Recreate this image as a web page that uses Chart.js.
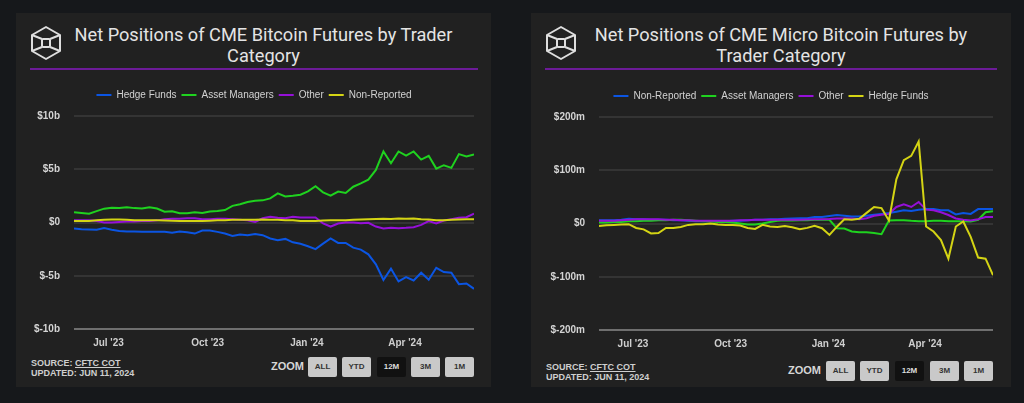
<!DOCTYPE html>
<html><head><meta charset="utf-8">
<script src="https://cdn.jsdelivr.net/npm/chart.js@4.4.1/dist/chart.umd.min.js"></script>
<style>
html,body{margin:0;padding:0;background:#16181b;width:1024px;height:403px;overflow:hidden;font-family:"Liberation Sans",Arial,sans-serif;}
.panel{position:absolute;top:13px;height:374px;background:#212121;}
.title{position:absolute;color:#e4e4e4;font-family:Roboto,sans-serif;font-size:18.2px;line-height:21px;text-align:center;white-space:nowrap;}
.rule{position:absolute;height:2px;background:#6c1b98;}
.icon{position:absolute;}
.cw{position:absolute;}
.src{position:absolute;color:#cfcfcf;font-size:9px;font-weight:bold;line-height:10px;white-space:nowrap;}
.zl{position:absolute;color:#d6d6d6;font-size:11px;font-weight:bold;line-height:13px;}
.btn{position:absolute;width:29px;height:20px;background:#c9c9c9;color:#333;font-size:8px;font-weight:bold;line-height:20px;text-align:center;border-radius:2px;}
.btn.on{background:#111;color:#ddd;}
</style></head>
<body>
<div class="panel" style="left:16px;width:475px;"></div>
<div class="panel" style="left:531px;width:480px;"></div>

<svg class="icon" style="left:29px;top:25px" width="34" height="36" viewBox="0 0 34 36">
<g fill="none" stroke="#dedede" stroke-width="2" stroke-linejoin="round">
<polygon points="17,2 31,10 31,26 17,34 3,26 3,10"/>
<rect x="13" y="14" width="8" height="8" rx="1"/>
<line x1="3" y1="10" x2="13" y2="14"/><line x1="31" y1="10" x2="21" y2="14"/>
<line x1="3" y1="26" x2="13" y2="22"/><line x1="31" y1="26" x2="21" y2="22"/>
</g></svg>
<svg class="icon" style="left:544px;top:25px" width="34" height="36" viewBox="0 0 34 36">
<g fill="none" stroke="#dedede" stroke-width="2" stroke-linejoin="round">
<polygon points="17,2 31,10 31,26 17,34 3,26 3,10"/>
<rect x="13" y="14" width="8" height="8" rx="1"/>
<line x1="3" y1="10" x2="13" y2="14"/><line x1="31" y1="10" x2="21" y2="14"/>
<line x1="3" y1="26" x2="13" y2="22"/><line x1="31" y1="26" x2="21" y2="22"/>
</g></svg>

<div class="title" style="left:63px;width:401px;top:24px;">Net Positions of CME Bitcoin Futures by Trader<br>Category</div>
<div class="title" style="left:580px;width:402px;top:24px;">Net Positions of CME Micro Bitcoin Futures by<br>Trader Category</div>
<div class="rule" style="left:30px;width:448px;top:68px;"></div>
<div class="rule" style="left:545px;width:452px;top:68px;"></div>

<div class="cw" style="left:20px;top:85px;width:470px;height:269px;"><canvas id="c1" width="470" height="269"></canvas></div>
<div class="cw" style="left:540px;top:86px;width:468px;height:269px;"><canvas id="c2" width="468" height="269"></canvas></div>

<div class="src" style="left:31px;top:358px;">SOURCE: <u>CFTC COT</u><br>UPDATED: JUN 11, 2024</div>
<div class="src" style="left:546px;top:362px;">SOURCE: <u>CFTC COT</u><br>UPDATED: JUN 11, 2024</div>

<div class="zl" style="left:271px;top:360px;">ZOOM</div>
<div class="btn" style="left:308px;top:357px;">ALL</div>
<div class="btn" style="left:342px;top:357px;">YTD</div>
<div class="btn on" style="left:377px;top:357px;">12M</div>
<div class="btn" style="left:411px;top:357px;">3M</div>
<div class="btn" style="left:445px;top:357px;">1M</div>

<div class="zl" style="left:788px;top:364px;">ZOOM</div>
<div class="btn" style="left:826px;top:361px;">ALL</div>
<div class="btn" style="left:860px;top:361px;">YTD</div>
<div class="btn on" style="left:895px;top:361px;">12M</div>
<div class="btn" style="left:930px;top:361px;">3M</div>
<div class="btn" style="left:964px;top:361px;">1M</div>

<script>
// ---- data ----
const dates = [
 "2023-05-30","2023-06-06","2023-06-13","2023-06-20","2023-06-27","2023-07-04","2023-07-11","2023-07-18","2023-07-25",
 "2023-08-01","2023-08-08","2023-08-15","2023-08-22","2023-08-29","2023-09-05","2023-09-12","2023-09-19","2023-09-26",
 "2023-10-03","2023-10-10","2023-10-17","2023-10-24","2023-10-31","2023-11-07","2023-11-14","2023-11-21","2023-11-28",
 "2023-12-05","2023-12-12","2023-12-19","2023-12-26","2024-01-02","2024-01-09","2024-01-16","2024-01-23","2024-01-30",
 "2024-02-06","2024-02-13","2024-02-20","2024-02-27","2024-03-05","2024-03-12","2024-03-19","2024-03-26","2024-04-02",
 "2024-04-09","2024-04-16","2024-04-23","2024-04-30","2024-05-07","2024-05-14","2024-05-21","2024-05-28","2024-06-04"];

const xTickDates = ["2023-07-01","2023-10-01","2024-01-01","2024-04-01"];
const xTickLabels = ["Jul '23","Oct '23","Jan '24","Apr '24"];

// CME Bitcoin Futures ($b)
const btcHedgeFunds = [-0.57,-0.63,-0.66,-0.69,-0.53,-0.69,-0.79,-0.85,-0.85,-0.88,-0.88,-0.88,-0.88,-0.97,-0.85,-0.91,-1.04,-0.75,-0.75,-0.88,-1.04,-1.26,-1.13,-1.19,-1.07,-1.19,
 -1.5,-1.67,-1.54,-1.86,-2.0,-2.23,-2.5,-1.98,-1.5,-1.92,-1.92,-2.36,-2.55,-2.99,-3.93,-5.4,-4.34,-5.53,-5.13,-5.44,-4.72,-5.38,-4.25,-4.65,-4.72,-5.79,-5.72,-6.23];
const btcAssetManagers = [0.96,0.89,0.83,1.07,1.3,1.39,1.36,1.44,1.35,1.31,1.42,1.31,1.02,1.06,0.88,0.88,0.96,0.9,1.03,1.08,1.17,1.56,1.72,1.92,2.05,2.08,
 2.26,2.74,2.45,2.52,2.61,2.92,3.4,2.83,2.52,2.9,2.77,3.36,3.68,4.03,4.94,6.67,5.57,6.67,6.29,6.67,5.91,6.26,5.06,5.38,5.13,6.42,6.2,6.38];
const btcOther = [0.2,0.2,0.2,0.15,0.0,0.0,0.05,0.1,0.1,0.15,0.15,0.2,0.3,0.35,0.35,0.4,0.4,0.3,0.3,0.35,0.35,0.3,0.25,0.2,0.05,0.4,
 0.53,0.44,0.41,0.53,0.47,0.47,0.47,-0.09,-0.38,-0.09,0,0,-0.06,-0.03,-0.38,-0.57,-0.5,-0.53,-0.5,-0.44,-0.22,0.13,-0.09,0.19,0.31,0.44,0.5,0.82];
const btcNonReported = [0.15,0.15,0.15,0.2,0.25,0.27,0.27,0.25,0.22,0.2,0.2,0.2,0.18,0.17,0.15,0.15,0.15,0.15,0.17,0.2,0.22,0.25,0.25,0.25,0.25,0.27,
 0.25,0.25,0.22,0.2,0.15,0.15,0.15,0.18,0.2,0.2,0.22,0.25,0.28,0.3,0.32,0.35,0.32,0.38,0.35,0.38,0.3,0.28,0.22,0.2,0.25,0.28,0.3,0.3];

// CME Micro Bitcoin Futures ($m)
const microNonReported = [6,6,6,7,9,8,8,7,7,7,6,6,5,4,4,4,4,4,5,5,6,7,7,8,8,9,
 9.5,10,10,12,12,14,16,14.6,13,13,14.6,16.5,18,19.6,22,24.7,23.4,26,27,27,24.7,24.7,17,19.6,18,27,27,27];
const microAssetManagers = [2,2,3,3,4,4,5,5,6,6,7,7,6,5,4,4,3,3,2,0,-2,-2,0,3,5,6,
 5.7,6,6,7,7,7,-9,-9.5,-15,-16.5,-16.5,-18,-20,5.7,6,6,5,4.4,4.4,5,5,4.4,4.4,4.4,3.8,7,21,23];
const microOther = [5,5,5,6,7,8,8,8,8,7,7,6,6,5,5,5,5,5,5,6,6,7,7,7,7,7,
 7,7,7.6,8,8,8.5,9.5,9.5,9.5,8,10,14.6,16.5,18,31,36,31,40.5,26,24.7,21,16,9.5,7,5.7,8,12,12];
const microHedgeFunds = [-4.5,-3.2,-2.6,-1.9,-1.3,-8.3,-11,-18.6,-18,-8.3,-8.3,-6.4,-2.6,-1.3,-1.3,0,-1.9,-2.6,-2.6,-3.8,-8.3,-10.3,-2.6,-5.8,-6.4,-4.5,
 -7,-10.8,-8.2,-4.4,-8.9,-21.5,-6,8,7,9,20,31,29,5.7,83,119,127,154,-5.7,-15,-31,-66,-5.7,3.8,-25,-64,-66,-97];

const btcYTickValues = [-10,-5,0,5,10];
const btcYTickLabels = ["$-10b","$-5b","$0","$5b","$10b"];
const microYTickValues = [-200,-100,0,100,200];
const microYTickLabels = ["$-200m","$-100m","$0","$100m","$200m"];

const BLUE = "#0b55e3", GREEN = "#1fd21f", PURPLE = "#9510d8", YELLOW = "#d4d414";

// ---- helpers ----
const day = s => Date.parse(s + "T00:00:00Z") / 864e5;
const xTickDays = xTickDates.map(day);
const series = vals => dates.map((d, i) => ({ x: day(d), y: vals[i] }));

function makeChart(id, sets, yVals, yLabels, leftPad, yAxisWidth, rightPad, legendH, xAxisH, xPad) {
  const n = sets.length;
  const datasets = sets.map((s, i) => ({
    label: s[0], data: series(s[1]), borderColor: s[2], backgroundColor: s[2],
    borderWidth: 2, pointRadius: 0, tension: 0, order: n - i
  }));
  const legendFix = {
    id: 'legendFix',
    beforeLayout(chart) {
      const lg = chart.legend;
      if (lg && !lg._fixed) {
        const f = lg.fit;
        lg.fit = function () { f.call(this); this.height = legendH; };
        lg._fixed = true;
      }
    }
  };
  return new Chart(document.getElementById(id), {
    type: 'line',
    data: { datasets },
    plugins: [legendFix],
    options: {
      responsive: false, animation: false, devicePixelRatio: 1,
      layout: { padding: { left: leftPad, right: rightPad, top: 0, bottom: 0 } },
      plugins: {
        tooltip: { enabled: false },
        legend: {
          position: 'top', align: 'center',
          labels: {
            color: '#d2d2d2', font: { family: 'Liberation Sans', size: 10 },
            usePointStyle: true, pointStyle: 'line', pointStyleWidth: 15, padding: 5,
            sort: (a, b) => a.datasetIndex - b.datasetIndex
          }
        }
      },
      scales: {
        x: {
          type: 'linear', min: day(dates[0]), max: day(dates[dates.length - 1]),
          afterBuildTicks: s => { s.ticks = xTickDays.map(v => ({ value: v })); },
          afterFit: s => { s.height = xAxisH; },
          grid: { display: false, drawTicks: false },
          border: { display: false },
          ticks: {
            color: '#cfcfcf', font: { family: 'Liberation Sans', size: 10, weight: 'bold' },
            padding: xPad, maxRotation: 0, autoSkip: false,
            callback: v => { const k = xTickDays.indexOf(v); return k >= 0 ? xTickLabels[k] : ''; }
          }
        },
        y: {
          min: yVals[0], max: yVals[yVals.length - 1],
          afterBuildTicks: s => { s.ticks = yVals.map(v => ({ value: v })); },
          afterFit: s => { s.width = yAxisWidth; },
          grid: {
            drawTicks: false, lineWidth: 2,
            color: c => (c.tick && c.tick.value === yVals[0]) ? '#6f6f6f' : '#343434'
          },
          border: { display: false },
          ticks: {
            color: '#d4d4d4', font: { family: 'Liberation Sans', size: 10, weight: 'bold' }, padding: 14,
            callback: v => { const k = yVals.indexOf(v); return k >= 0 ? yLabels[k] : ''; }
          }
        }
      }
    }
  });
}

makeChart('c1', [
  ["Hedge Funds", btcHedgeFunds, BLUE],
  ["Asset Managers", btcAssetManagers, GREEN],
  ["Other", btcOther, PURPLE],
  ["Non-Reported", btcNonReported, YELLOW]
], btcYTickValues, btcYTickLabels, 14, 40, 16, 31, 25, 8);

makeChart('c2', [
  ["Non-Reported", microNonReported, BLUE],
  ["Asset Managers", microAssetManagers, GREEN],
  ["Other", microOther, PURPLE],
  ["Hedge Funds", microHedgeFunds, YELLOW]
], microYTickValues, microYTickLabels, 9, 50, 15, 31, 25, 8);
</script>
</body></html>
